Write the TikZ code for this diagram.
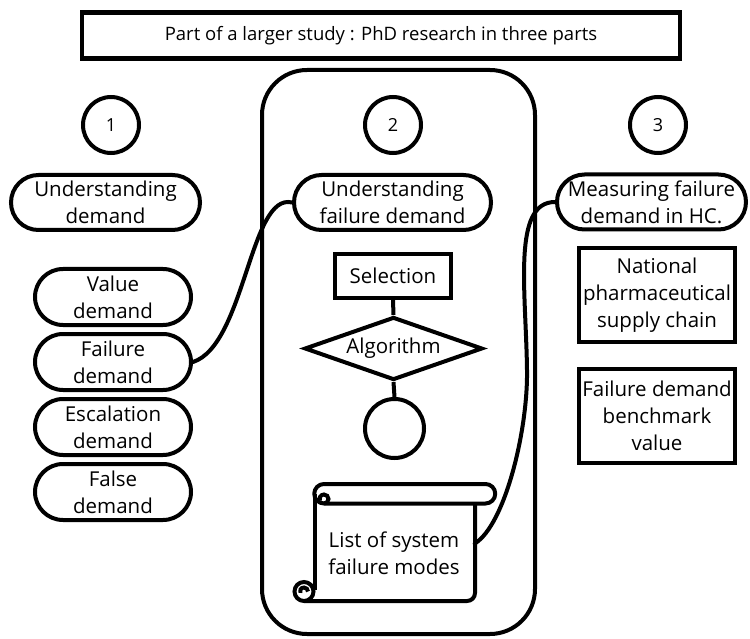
\documentclass[tikz,border=0pt]{standalone}
\usepackage{fontspec}
\setmainfont{Open Sans}
\usetikzlibrary{shapes.geometric,shapes.misc}
\begin{document}
\begin{tikzpicture}[x=1pt,y=-1pt,
  lw/.style={line width=4pt},
  txt/.style={font=\fontsize{20.5}{27}\selectfont, align=center, inner sep=0pt},
  pill/.style={lw, draw, rounded rectangle, minimum width=156pt, minimum height=56pt, txt},
  widepill/.style={pill, minimum width=189pt, minimum height=55pt},
  boxnode/.style={lw, draw, rectangle, minimum width=156pt, minimum height=94pt, txt},
  numcirc/.style={lw, draw, circle, minimum size=56pt, inner sep=0pt, font=\fontsize{18}{20}\selectfont},
  link/.style={lw, line cap=round}
]
\useasboundingbox (0,0) rectangle (750,639);

% title
\node[line width=4.5pt, draw, rectangle, minimum width=598pt, minimum height=46pt,
      font=\fontsize{18.5}{22}\selectfont, inner sep=0pt] (title) at (381,35.5)
      {Part of a larger study : PhD research in three parts};

% container
\node[lw, draw, rectangle, rounded corners=45pt, minimum width=273pt, minimum height=564pt] (frame) at (398.5,352) {};

% numbered circles
\node[numcirc] (c1) at (111,125) {1};
\node[numcirc] (c2) at (393,125) {2};
\node[numcirc] (c3) at (658,125) {3};

% column 1
\node[widepill] (ud) at (105.5,202.5) {Understanding\\demand};
\node[pill] (vd) at (113,297) {Value\\demand};
\node[pill] (fd) at (113,362) {Failure\\demand};
\node[pill] (ed) at (113,427) {Escalation\\demand};
\node[pill] (fsd) at (113,492) {False\\demand};

% column 2
\node[widepill, minimum width=197pt] (ufd) at (392.5,202.5) {Understanding\\failure demand};
\node[lw, draw, rectangle, minimum width=116pt, minimum height=44pt, txt] (sel) at (393,276) {Selection};
\node[lw, draw, diamond, aspect=2.8, minimum width=178pt, minimum height=63pt, txt] (alg) at (393.5,348.5) {Algorithm};
\node[lw, draw, circle, minimum size=59pt, inner sep=0pt] (circ) at (394.5,428.5) {};
\draw[lw] (sel.south) -- (alg.north);
\draw[lw] (alg.south) -- (circ.north);

% scroll
\node[txt, minimum width=161pt, minimum height=96pt] (scroll) at (394,553.5) {List of system\\failure modes};
\draw[lw, line join=round] (324,484) -- (485.5,484) arc[start angle=-90, end angle=90, radius=9.75]
      -- (324,503.5) arc[start angle=90, end angle=270, radius=9.75] -- cycle;
\draw[lw] (324,503.5) arc[start angle=90, end angle=-90, radius=4.5] arc[start angle=-90, end angle=-200, radius=4.5];
\draw[lw] (315,494) -- (315,590);
\draw[lw, rounded corners=8pt] (304,601) -- (475,601) -- (475,503.5);
\draw[lw] (304,591.5) circle[radius=9.5];
\draw[lw] (308,591.5) arc[start angle=0, end angle=-200, radius=4];

% column 3
\node[widepill] (mfd) at (651.5,202) {Measuring failure\\demand in HC.};
\node[boxnode] (nat) at (657,295) {National\\pharmaceutical\\supply chain};
\node[boxnode] (bench) at (657,416) {Failure demand\\benchmark\\value};

% connectors
\draw[link] (fd.east) .. controls (245,345) and (250,192) .. (ufd.west);
\draw[link] (scroll.7) .. controls (505,525) and (528,430) .. (527,370)
            .. controls (526,290) and (512,202) .. (mfd.west);
\end{tikzpicture}
\end{document}
